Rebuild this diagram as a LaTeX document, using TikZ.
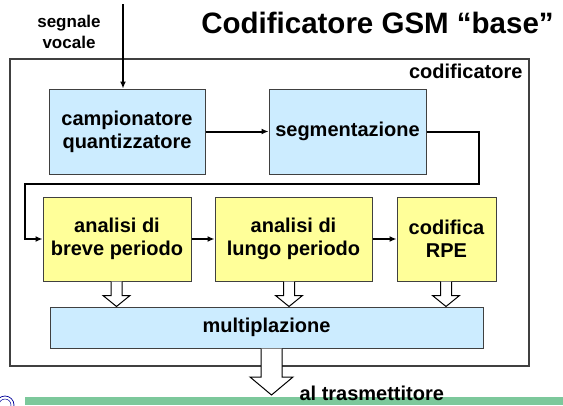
\documentclass[tikz,border=0pt]{standalone}
\usepackage{fontspec}
\setmainfont{Liberation Sans}
\usetikzlibrary{arrows.meta,calc}
\definecolor{boxblue}{RGB}{204,236,255}
\definecolor{boxyellow}{RGB}{255,255,153}
\definecolor{bargreen}{RGB}{124,200,155}
\definecolor{edgegray}{RGB}{64,64,64}
\newcommand{\hdown}[5]{%
  \draw[hollowarrow] let \p1=(#1), \p2=(#2) in
    (\x1-#3pt,\y1) -- (\x1-#3pt,\y2+#5pt) -- (\x1-#4pt,\y2+#5pt) -- (\x1,\y2)
    -- (\x1+#4pt,\y2+#5pt) -- (\x1+#3pt,\y2+#5pt) -- (\x1+#3pt,\y1);}
\begin{document}
\begin{tikzpicture}[x=1pt,y=-1pt,
  every node/.style={font=\bfseries},
  bluebox/.style={draw=edgegray,line width=1pt,fill=boxblue,inner sep=0pt,align=center,font=\bfseries\fontsize{20}{23}\selectfont},
  yellowbox/.style={draw=edgegray,line width=1pt,fill=boxyellow,inner sep=0pt,align=center,font=\bfseries\fontsize{20}{23}\selectfont},
  conn/.style={line width=2pt,-{Latex[length=7pt,width=6pt]}},
  hollowarrow/.style={draw=black,line width=1pt,fill=white,line join=miter},
  outerbox/.style={draw=edgegray,line width=1.2pt}]
\useasboundingbox (0,0) rectangle (563,405);
% outer box
\node[outerbox,minimum width=519pt,minimum height=307pt,inner sep=0pt] (cod) at (269.5,212.5) {};
\node[anchor=base east,font=\bfseries\fontsize{20}{23}\selectfont] (codlab) at (526,78) {codificatore};
% title
\node[anchor=base,font=\bfseries\fontsize{29.5}{34}\selectfont] (title) at (377.5,33) {Codificatore GSM “base”};
\node[anchor=base,font=\bfseries\fontsize{17}{21}\selectfont] (sig1) at (69,27) {segnale};
\node[anchor=base,font=\bfseries\fontsize{17}{21}\selectfont] (sig2) at (69,48) {vocale};
% boxes
\node[bluebox,minimum width=156pt,minimum height=85pt] (camp) at (127,131.5) {campionatore\\quantizzatore};
\node[bluebox,minimum width=157pt,minimum height=85pt] (segm) at (347.5,131.5) {segmentazione};
\node[yellowbox,minimum width=148pt,minimum height=84pt] (breve) at (117,239) {analisi di\\breve periodo};
\node[yellowbox,minimum width=157pt,minimum height=84pt] (lungo) at (293.5,239) {analisi di\\lungo periodo};
\node[yellowbox,minimum width=99pt,minimum height=84pt] (rpe) at (446.5,239) {codifica\\RPE};
\node[bluebox,minimum width=433pt,minimum height=41pt] (mux) at (266.5,327.5) {multiplazione};
% connectors
\coordinate (in) at (123,4);
\coordinate (c1) at (479,184);
\coordinate (c2) at (25,184);
\draw[conn] (in) -- (in |- camp.north);
\draw[conn] (camp.east) -- (segm.west);
\draw[conn,rounded corners=0pt] (segm.east) -| (c1) -- (c2) |- (breve.west);
\draw[conn] (breve.east) -- (lungo.west);
\draw[conn] (lungo.east) -- (rpe.west);
% hollow arrows
\coordinate (h1) at ($(breve.south)+(-0.5,0)$);
\coordinate (h2) at ($(lungo.south)+(-4.5,0)$);
\coordinate (h3) at ($(rpe.south)+(-0.5,0)$);
\hdown{h1}{mux.north}{5.5}{13.5}{11}
\hdown{h2}{mux.north}{5.5}{13.5}{11}
\hdown{h3}{mux.north}{5.5}{13.5}{11}
% output
\coordinate (h4) at ($(mux.south)+(5,0)$);
\coordinate (outtip) at (271.5,395);
\fill[bargreen] (25,397) rectangle (563,405);
\hdown{h4}{outtip}{10.5}{21.5}{18}
\node[anchor=base west,font=\bfseries\fontsize{20}{23}\selectfont] (tx) at (296,400.5) {al trasmettitore};
% logo fragment
\begin{scope}
\clip (0,0) rectangle (563,405);
\draw[blue!60!black,line width=0.7pt] (5,405) circle (9);
\draw[blue!60!black,line width=0.5pt] (5,405) circle (6);
\end{scope}
\end{tikzpicture}
\end{document}
